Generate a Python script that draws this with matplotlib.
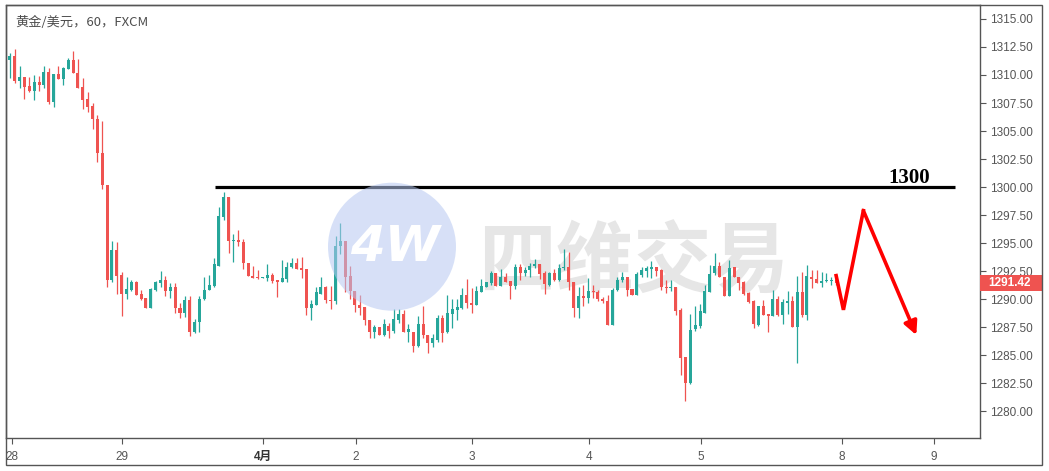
import numpy as np
import matplotlib.pyplot as plt
from matplotlib.patches import Rectangle, Ellipse
import matplotlib.transforms as mtransforms

plt.rcParams['font.family'] = ['Liberation Sans', 'Noto Sans CJK SC', 'DejaVu Sans']

# === 黃金/美元 60 分鐘 K 線 ===
opens = [
    1311.3, 1311.7, 1309.5, 1309.8, 1309.0, 1308.6, 1309.4, 1309.1, 1310.3, 1307.6,
    1310.1, 1309.6, 1310.5, 1311.3, 1310.2, 1308.9, 1307.9, 1307.2, 1306.1, 1303.0,
    1300.2, 1291.7, 1294.4, 1292.2, 1290.5, 1290.8, 1291.5, 1290.5, 1290.1, 1289.2,
    1290.8, 1291.4, 1291.7, 1290.7, 1291.1, 1289.2, 1288.8, 1289.9, 1287.1, 1288.0,
    1290.0, 1290.8, 1291.2, 1293.0, 1297.3, 1299.1, 1295.2, 1295.3, 1295.1, 1293.2,
    1292.1, 1292.0, 1291.9, 1291.9, 1292.2, 1291.7, 1291.5, 1291.8, 1292.9, 1293.2,
    1292.8, 1292.7, 1289.2, 1289.5, 1290.5, 1291.1, 1289.9, 1289.8, 1294.7, 1295.2,
    1292.1, 1290.7, 1289.5, 1289.3, 1288.1, 1287.05, 1287.5, 1286.8, 1287.6, 1287.2,
    1288.1, 1288.7, 1287.1, 1287.1, 1285.8, 1287.8, 1286.8, 1286.1, 1286.4, 1288.3,
    1287.05, 1288.7, 1289.05, 1289.2, 1290.4, 1289.7, 1289.45, 1290.6, 1291.1, 1291.4,
    1292.3, 1291.2, 1292.0, 1291.6, 1291.2, 1292.9, 1292.3, 1292.6, 1293.0, 1293.1,
    1292.3, 1291.3, 1292.3, 1291.7, 1292.8, 1292.9, 1291.55, 1289.2, 1290.3, 1290.07,
    1290.75, 1290.6, 1290.0, 1289.8, 1287.7, 1290.8, 1291.7, 1291.95, 1290.9, 1290.4,
    1292.2, 1292.5, 1292.7, 1292.9, 1292.6, 1291.1, 1291.0, 1291.05, 1289.0, 1284.8,
    1282.5, 1287.3, 1287.6, 1288.8, 1290.6, 1292.3, 1293.0, 1292.0, 1290.25, 1292.85,
    1292.0, 1291.5, 1290.55, 1289.8, 1287.74, 1289.36, 1288.7, 1288.47, 1290.0, 1288.6,
    1289.7, 1289.8, 1287.5, 1290.6, 1288.6, 1292.0, 1291.8, 1291.44, 1291.6, 1291.6,
    1291.7,
]
highs = [
    1312.0, 1312.3, 1310.8, 1309.8, 1309.8, 1310.0, 1309.9, 1310.8, 1310.6, 1310.1,
    1310.8, 1310.7, 1311.5, 1312.1, 1311.4, 1309.7, 1308.5, 1307.5, 1306.4, 1305.9,
    1300.2, 1295.2, 1295.1, 1292.4, 1292.0, 1291.7, 1291.6, 1290.8, 1290.1, 1291.0,
    1291.6, 1292.5, 1292.1, 1291.4, 1291.4, 1289.7, 1290.3, 1290.3, 1288.2, 1290.3,
    1292.0, 1292.2, 1293.7, 1298.2, 1299.6, 1299.1, 1295.8, 1296.2, 1295.4, 1293.2,
    1293.0, 1292.6, 1292.0, 1293.1, 1292.3, 1291.7, 1293.5, 1293.3, 1293.7, 1293.7,
    1293.8, 1292.7, 1289.9, 1291.1, 1292.0, 1291.2, 1291.2, 1295.6, 1296.8, 1295.2,
    1293.0, 1290.7, 1290.4, 1289.3, 1288.1, 1287.7, 1287.5, 1288.2, 1287.9, 1289.1,
    1289.1, 1289.0, 1287.8, 1287.1, 1288.5, 1289.4, 1286.8, 1286.9, 1288.6, 1288.6,
    1290.4, 1290.0, 1290.0, 1291.0, 1291.8, 1291.0, 1291.2, 1291.8, 1291.5, 1292.5,
    1292.3, 1292.7, 1292.3, 1291.6, 1293.15, 1293.1, 1292.9, 1293.2, 1293.6, 1293.15,
    1292.5, 1292.4, 1292.7, 1293.15, 1294.5, 1294.2, 1291.55, 1291.1, 1291.3, 1291.9,
    1291.3, 1290.8, 1290.2, 1290.4, 1291.0, 1292.0, 1292.4, 1292.0, 1290.9, 1292.4,
    1292.86, 1293.0, 1293.45, 1292.9, 1292.7, 1291.7, 1291.7, 1291.1, 1289.2, 1284.85,
    1288.71, 1289.42, 1289.6, 1291.3, 1293.06, 1294.16, 1293.36, 1292.0, 1293.5, 1292.9,
    1292.0, 1291.6, 1290.6, 1289.95, 1289.42, 1289.95, 1288.7, 1290.78, 1290.25, 1290.0,
    1290.7, 1290.25, 1292.09, 1292.4, 1293.06, 1292.56, 1292.6, 1292.4, 1292.3, 1292.0,
    1291.9,
]
lows = [
    1309.7, 1309.3, 1308.8, 1307.9, 1308.5, 1307.8, 1308.6, 1308.8, 1307.4, 1307.1,
    1309.6, 1309.1, 1310.5, 1310.2, 1308.8, 1307.0, 1306.7, 1305.2, 1302.2, 1299.8,
    1291.1, 1291.5, 1290.5, 1288.5, 1290.0, 1290.7, 1290.4, 1289.9, 1289.2, 1289.2,
    1290.7, 1291.1, 1290.3, 1290.1, 1288.8, 1288.3, 1288.4, 1286.7, 1287.0, 1287.1,
    1289.9, 1290.8, 1291.1, 1293.0, 1297.1, 1294.1, 1293.3, 1294.7, 1292.7, 1292.1,
    1291.9, 1291.8, 1291.9, 1291.6, 1291.4, 1290.2, 1291.5, 1291.5, 1292.8, 1292.7,
    1291.9, 1288.6, 1288.1, 1289.5, 1290.5, 1289.7, 1289.1, 1289.6, 1294.0, 1290.6,
    1290.0, 1288.9, 1288.6, 1287.7, 1286.5, 1286.5, 1286.8, 1286.7, 1286.5, 1287.0,
    1287.9, 1287.1, 1286.2, 1285.3, 1285.7, 1286.5, 1285.2, 1285.7, 1286.2, 1286.2,
    1287.0, 1287.4, 1288.1, 1289.15, 1289.2, 1288.8, 1289.45, 1290.6, 1291.1, 1291.3,
    1291.2, 1291.2, 1291.55, 1290.0, 1290.9, 1291.7, 1292.1, 1292.0, 1292.8, 1291.8,
    1290.5, 1291.2, 1291.6, 1291.6, 1292.6, 1290.85, 1288.4, 1288.3, 1289.4, 1289.66,
    1290.1, 1289.8, 1289.66, 1287.74, 1287.7, 1290.7, 1291.5, 1290.25, 1290.4, 1290.4,
    1292.0, 1292.0, 1291.9, 1292.1, 1290.84, 1290.55, 1290.7, 1288.6, 1283.2, 1280.92,
    1282.4, 1287.2, 1287.4, 1288.8, 1290.6, 1292.2, 1292.0, 1290.25, 1290.25, 1292.0,
    1290.84, 1290.4, 1289.66, 1287.44, 1287.65, 1288.6, 1287.05, 1288.47, 1288.5, 1287.82,
    1288.7, 1287.5, 1284.27, 1288.4, 1288.17, 1291.0, 1291.4, 1291.1, 1291.5, 1291.3,
    1291.3,
]
closes = [
    1311.7, 1309.5, 1309.8, 1308.9, 1308.6, 1309.4, 1309.1, 1310.3, 1307.6, 1310.1,
    1309.6, 1310.6, 1311.3, 1310.2, 1308.8, 1307.8, 1307.1, 1306.1, 1303.0, 1300.2,
    1291.7, 1294.4, 1292.1, 1290.5, 1290.9, 1291.5, 1290.4, 1290.0, 1289.2, 1290.9,
    1291.5, 1291.7, 1290.7, 1291.1, 1289.2, 1288.8, 1289.9, 1287.1, 1288.0, 1290.0,
    1290.8, 1291.3, 1293.1, 1297.4, 1299.1, 1295.2, 1295.3, 1295.1, 1293.2, 1292.1,
    1291.9, 1291.9, 1291.95, 1292.2, 1291.6, 1291.5, 1291.9, 1292.9, 1293.2, 1292.7,
    1292.6, 1289.2, 1289.6, 1290.6, 1291.1, 1289.9, 1289.8, 1294.7, 1295.2, 1292.0,
    1290.7, 1289.5, 1289.2, 1288.1, 1287.1, 1287.5, 1286.8, 1287.8, 1287.2, 1288.2,
    1288.7, 1287.1, 1287.3, 1285.8, 1287.8, 1286.8, 1286.1, 1286.5, 1288.3, 1287.0,
    1288.8, 1289.1, 1289.3, 1290.4, 1289.7, 1289.45, 1290.7, 1291.2, 1291.5, 1292.3,
    1291.2, 1292.0, 1291.55, 1291.2, 1292.9, 1292.3, 1292.6, 1293.0, 1293.1, 1292.25,
    1291.35, 1292.3, 1291.7, 1292.8, 1292.9, 1291.5, 1289.2, 1290.3, 1290.07, 1290.75,
    1290.6, 1290.0, 1289.8, 1287.74, 1290.84, 1291.73, 1291.95, 1290.84, 1290.4, 1292.27,
    1292.56, 1292.8, 1292.9, 1292.5, 1291.1, 1291.0, 1291.05, 1288.92, 1284.78, 1282.5,
    1287.29, 1287.74, 1288.92, 1290.69, 1292.27, 1292.97, 1291.97, 1290.25, 1292.8, 1291.97,
    1291.44, 1290.5, 1289.72, 1287.8, 1289.36, 1288.6, 1288.47, 1290.0, 1288.6, 1289.78,
    1289.8, 1287.5, 1290.6, 1288.6, 1292.03, 1291.8, 1291.44, 1291.6, 1291.65, 1291.7,
    1291.42,
]

# 時間軸標籤 (以 K 線序號定位)
date_labels = ["28", "29", "4月", "2", "3", "4", "5", "8", "9"]
date_pos = [0.4, 23.0, 52.0, 71.2, 95.1, 119.2, 142.2, 171.2, 190.1]

last_price = 1291.42
resist_level = 1300
resist_start, resist_end = 42.3, 194.5

# 手繪的紅色走勢箭頭
arrow_x = [170.0, 171.5, 175.6, 186.5]
arrow_y = [1292.1, 1289.05, 1297.9, 1286.8]

UP = '#26a69a'
DOWN = '#ef5350'
GRID = '#555555'

W, H = 1049, 471
fig = plt.figure(figsize=(W / 100, H / 100), dpi=100)
fig.patch.set_facecolor('white')

# 圖區 (px): 左 6, 右 980, 上 4.7, 下 437.5
L, R, T, B = 6, 980, 4.7, 437.5
ax = fig.add_axes([L / W, 1 - B / H, (R - L) / W, (B - T) / H])

x = np.arange(len(opens))
o = np.array(opens)
c = np.array(closes)
h = np.array(highs)
lo = np.array(lows)
colors = np.where(c >= o, UP, DOWN)

ax.vlines(x, lo, h, colors=colors, linewidth=0.9, zorder=3)
body_bottom = np.minimum(o, c)
body_height = np.maximum(np.abs(c - o), 0.09)
ax.bar(x, body_height, bottom=body_bottom, width=0.62, color=colors, zorder=4, linewidth=0)

ax.set_xlim(-0.8, 199.6)
ax.set_ylim(1277.66, 1316.27)

# 右側價格軸
ax.yaxis.tick_right()
ax.set_yticks(np.arange(1280, 1315.01, 2.5))
ax.set_yticklabels([f"{v:.2f}" for v in np.arange(1280, 1315.01, 2.5)])
ax.tick_params(axis='y', direction='out', length=4, width=0.8, color=GRID,
               labelsize=8.5, labelcolor='#555555', pad=3)

# 底部時間軸
ax.set_xticks(date_pos)
ax.set_xticklabels(date_labels)
ax.tick_params(axis='x', direction='out', length=4, width=0.8, color=GRID,
               labelsize=8.5, labelcolor='#555555', pad=6)
for lbl in ax.get_xticklabels():
    if lbl.get_text() == "4月":
        lbl.set_fontweight('bold')
        lbl.set_color('#333333')

for sp in ax.spines.values():
    sp.set_color(GRID)
    sp.set_linewidth(1)

# 外框
fig.add_artist(Rectangle((L / W, 1 - 465 / H), (1042 - L) / W, (465 - T) / H,
                         transform=fig.transFigure, fill=False, ec=GRID, lw=1))

# 1300 壓力線
ax.hlines(resist_level, resist_start, resist_end, color='black', linewidth=2.3, zorder=6)
ax.text(185.0, resist_level + 0.85, str(resist_level), ha='center', va='center',
        fontsize=15, fontweight='bold', family='Liberation Serif', color='black', zorder=7)

# 紅色走勢箭頭
ax.plot(arrow_x[:3], arrow_y[:3], color='#ff0000', linewidth=2.6,
        solid_joinstyle='miter', zorder=8)
ax.annotate('', xy=(arrow_x[3], arrow_y[3]), xytext=(arrow_x[2], arrow_y[2]),
            arrowprops=dict(arrowstyle='-|>', color='#ff0000', lw=2.6,
                            mutation_scale=20, shrinkA=0, shrinkB=0), zorder=8)

# 最新價格標籤
trans = mtransforms.blended_transform_factory(ax.transAxes, ax.transData)
box_w = (1042 - R) / (R - L)
ax.add_patch(Rectangle((1.0, last_price - 0.72), box_w, 1.44, transform=trans,
                       facecolor=DOWN, edgecolor='none', clip_on=False, zorder=10))
ax.text(1.0 + 8 / (R - L), last_price, f"{last_price:.2f}", transform=trans,
        ha='left', va='center', fontsize=8.5, fontweight='bold', color='white',
        clip_on=False, zorder=11)

# 浮水印
ax.text(128.4, 1293.2, "四维交易", ha='center', va='center', fontsize=56,
        fontweight='bold', family='Noto Sans CJK SC', color='#e6e6e6', zorder=1)
fig.add_artist(Ellipse((392 / W, 1 - 246.7 / H), 2 * 64 / W, 2 * 64 / H,
                       transform=fig.transFigure, facecolor='#b6c8f2',
                       edgecolor='none', alpha=0.55, zorder=5))
fig.text(395 / W, 1 - 247 / H, "4W", ha='center', va='center', fontsize=36,
         fontweight='bold', style='italic', family='DejaVu Sans', color='white',
         zorder=6)

# 標題
fig.text(15 / W, 1 - 22 / H, "黄金/美元，60，FXCM", ha='left', va='center',
         fontsize=9.5, color='#4d4d4d', family=['Noto Sans CJK SC', 'DejaVu Sans'])

plt.savefig("out.png", dpi=100)
plt.close()
